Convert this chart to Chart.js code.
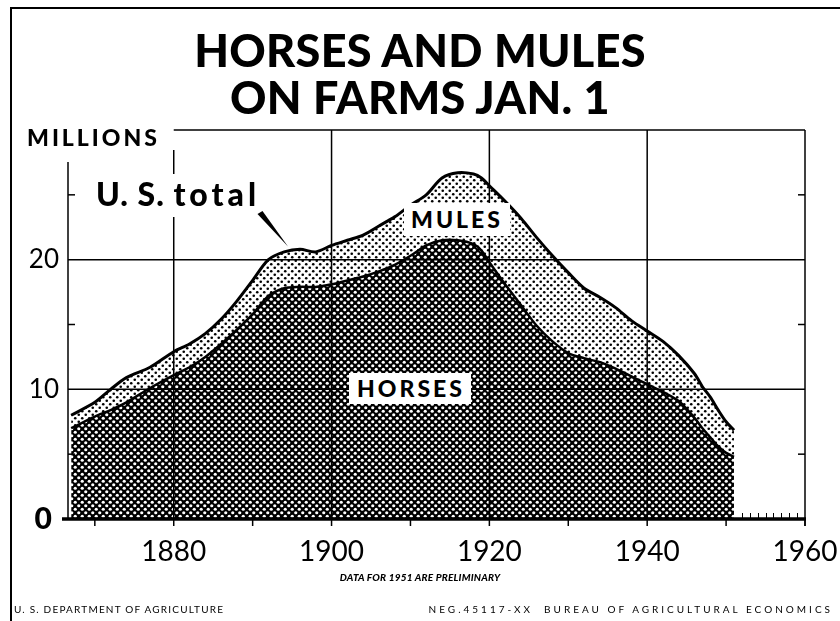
<!DOCTYPE html>
<html>
<head>
<meta charset="utf-8">
<script src="https://cdn.jsdelivr.net/npm/chart.js@4.4.1/dist/chart.umd.min.js"></script>
<style>
  html, body { margin:0; padding:0; background:#fff; }
  #wrap { position:relative; width:840px; height:621px; overflow:hidden; background:#fff; }
  canvas { position:absolute; left:0; top:0; }
  .t { position:absolute; line-height:1; color:#000; white-space:nowrap; font-family:Lato, "DejaVu Sans", sans-serif; }
</style>
</head>
<body>
<div id="wrap">
  <canvas id="c" width="840" height="621"></canvas>
  <div style="position:absolute;left:10px;top:7px;width:2px;height:614px;background:#000"></div>
  <div style="position:absolute;left:10px;top:7px;width:830px;height:2px;background:#000"></div>
  <div class="t" style="left:0;width:840px;text-align:center;top:28px;font-size:45px;font-weight:900;letter-spacing:0.3px">HORSES AND MULES</div>
  <div class="t" style="left:0;width:840px;text-align:center;top:75px;font-size:45px;font-weight:900;letter-spacing:0.3px">ON FARMS JAN. 1</div>
  <div class="t" style="left:27px;top:126px;font-size:23px;font-weight:900;letter-spacing:3px">MILLIONS</div>
  <div class="t" style="left:96px;top:178px;font-size:32px;font-weight:900;letter-spacing:1px">U. S. <span style="letter-spacing:4px">total</span></div>
  <div class="t" style="left:404px;top:203px;padding:5px 7px;background:#fff;font-size:23px;font-weight:900;letter-spacing:3px">MULES</div>
  <div class="t" style="left:349px;top:373px;padding:4px 6px 4px 8px;background:#fff;font-size:23px;font-weight:900;letter-spacing:3px">HORSES</div>
  <div class="t" style="left:0;width:840px;text-align:center;top:572px;font-size:10px;font-weight:900;font-style:italic;letter-spacing:0.2px">DATA FOR 1951 ARE PRELIMINARY</div>
  <div class="t" style="left:14px;top:604px;font-size:10px;letter-spacing:1.2px">U. S. DEPARTMENT OF AGRICULTURE</div>
  <div class="t" style="right:7px;top:604px;font-size:10px;letter-spacing:3px">NEG.45117-XX&nbsp;&nbsp;BUREAU OF AGRICULTURAL ECONOMICS</div>
</div>
<script>
// ---- data (millions, Jan. 1) ----
const years   = [1867,1870,1872,1874,1877,1880,1882,1884,1886,1888,1890,1892,1894,1896,1898,1900,1902,1904,1906,1908,1910,1912,1914,1916,1918,1919,1920,1922,1924,1926,1928,1930,1932,1934,1936,1938,1940,1942,1944,1946,1947,1948,1949,1950,1951];
const horses  = [7.0,7.9,8.4,9.0,10.1,11.1,11.7,12.5,13.5,14.6,15.8,17.2,17.8,17.9,17.9,18.1,18.4,18.7,19.1,19.6,20.3,21.1,21.5,21.5,21.2,20.7,19.8,18.1,16.5,14.9,13.7,12.8,12.4,12.1,11.6,11.0,10.4,9.8,9.1,7.8,7.0,6.3,5.6,5.1,4.8];
const usTotal = [8.0,9.0,10.0,10.9,11.7,12.9,13.5,14.3,15.4,16.8,18.4,20.0,20.6,20.8,20.6,21.1,21.5,21.9,22.6,23.3,24.2,25.0,26.3,26.7,26.6,26.3,25.7,24.5,23.2,21.7,20.3,19.0,17.8,17.1,16.3,15.3,14.5,13.7,12.6,11.2,10.2,9.4,8.4,7.5,6.85];
const xTickYears = [1880,1900,1920,1940,1960];
const yTickValues = [0,10,20];
const yMinorTicks = [5,15,25];

function makePattern(kind){
  const s = 7, c = document.createElement('canvas');
  c.width = s; c.height = s;
  const g = c.getContext('2d');
  if (kind === 'horses') {
    g.fillStyle = '#000'; g.fillRect(0,0,s,s);
    g.globalCompositeOperation = 'destination-out';
    [[1.75,1.75],[5.25,5.25]].forEach(([x,y])=>{ g.beginPath(); g.arc(x,y,1.6,0,Math.PI*2); g.fill(); });
  } else {
    g.fillStyle = '#000';
    [[1.75,1.75],[5.25,5.25]].forEach(([x,y])=>{ g.beginPath(); g.arc(x,y,1.3,0,Math.PI*2); g.fill(); });
  }
  return g.createPattern(c,'repeat');
}

const gridPlugin = {
  id:'gridPlugin',
  beforeDatasetsDraw(chart){
    const {ctx} = chart, xs = chart.scales.x, ys = chart.scales.y;
    const L = xs.getPixelForValue(xs.min), R = xs.getPixelForValue(1960);
    const B = ys.getPixelForValue(0), T = ys.getPixelForValue(30);
    ctx.save();
    ctx.strokeStyle = '#000'; ctx.lineWidth = 1.5;
    const line = (x1,y1,x2,y2)=>{ ctx.beginPath(); ctx.moveTo(x1,y1); ctx.lineTo(x2,y2); ctx.stroke(); };
    [10,20].forEach(v=>{ const y = ys.getPixelForValue(v); line(L,y,R,y); });
    const x1880 = xs.getPixelForValue(1880);
    line(x1880,T,R,T);
    [1900,1920,1940].forEach(v=>{ const x = xs.getPixelForValue(v); line(x,T,x,B); });
    line(x1880,150,x1880,174); line(x1880,217,x1880,B);
    line(L,162,L,B);
    line(R,T,R,B+7);
    yMinorTicks.forEach(v=>{ const y = ys.getPixelForValue(v); line(L,y,L+7,y); line(R-7,y,R,y); });
    ctx.restore();
  },
  afterDatasetsDraw(chart){
    const {ctx} = chart, xs = chart.scales.x, ys = chart.scales.y;
    const B = ys.getPixelForValue(0), R = xs.getPixelForValue(1960);
    ctx.save();
    ctx.strokeStyle = '#000';
    ctx.lineWidth = 1.5;
    for (let yr = 1870; yr <= 1960; yr += 10) {
      const x = xs.getPixelForValue(yr);
      ctx.beginPath(); ctx.moveTo(x,B); ctx.lineTo(x,B+7); ctx.stroke();
    }
    ctx.lineWidth = 1;
    for (let yr = 1952; yr <= 1959; yr++) {
      const x = Math.round(xs.getPixelForValue(yr))+0.5;
      ctx.beginPath(); ctx.moveTo(x,B); ctx.lineTo(x,B-6); ctx.stroke();
    }
    ctx.lineWidth = 3.5;
    ctx.beginPath(); ctx.moveTo(62,B); ctx.lineTo(R+1,B); ctx.stroke();
    // pointer from "U. S. total" label
    ctx.fillStyle = '#000';
    ctx.beginPath(); ctx.moveTo(257.5,214); ctx.lineTo(262.5,211); ctx.lineTo(288,246.5); ctx.closePath(); ctx.fill();
    ctx.restore();
  }
};

const pts = arr => years.map((y,i)=>({x:y, y:arr[i]}));

new Chart(document.getElementById('c'), {
  type:'line',
  data:{
    datasets:[
      { label:'Horses', data:pts(horses), borderColor:'#000', borderWidth:2.5,
        backgroundColor:makePattern('horses'), fill:'origin', pointRadius:0, tension:0.3 },
      { label:'U. S. total', data:pts(usTotal), borderColor:'#000', borderWidth:3,
        backgroundColor:makePattern('mules'), fill:'-1', pointRadius:0, tension:0.3 }
    ]
  },
  options:{
    responsive:false, animation:false, devicePixelRatio:1,
    layout:{ padding:{ top:130, right:35, left:0, bottom:0 } },
    plugins:{ legend:{display:false}, tooltip:{enabled:false} },
    scales:{
      x:{ type:'linear', min:1866.6, max:1960,
        grid:{display:false, drawTicks:false}, border:{display:false},
        afterBuildTicks: s => { s.ticks = xTickYears.map(v=>({value:v})); },
        afterFit: s => { s.height = 102; s.paddingLeft = 0; s.paddingRight = 0; },
        ticks:{ padding:16, color:'#000', font:{family:'Lato', size:28, weight:'normal'}, callback:v=>String(v), maxRotation:0, autoSkip:false }
      },
      y:{ min:0, max:30,
        grid:{display:false, drawTicks:false}, border:{display:false},
        afterBuildTicks: s => { s.ticks = yTickValues.map(v=>({value:v})); },
        afterFit: s => { s.width = 68; s.paddingTop = 0; s.paddingBottom = 0; },
        ticks:{ padding:9, color:'#000', autoSkip:false,
          callback: v => v === 0 ? '0 ' : String(v),
          font: c => (c.tick && c.tick.value === 0) ? {family:'Lato', size:30, weight:'900'} : {family:'Lato', size:26, weight:'normal'} }
      }
    }
  },
  plugins:[gridPlugin]
});
</script>
</body>
</html>
